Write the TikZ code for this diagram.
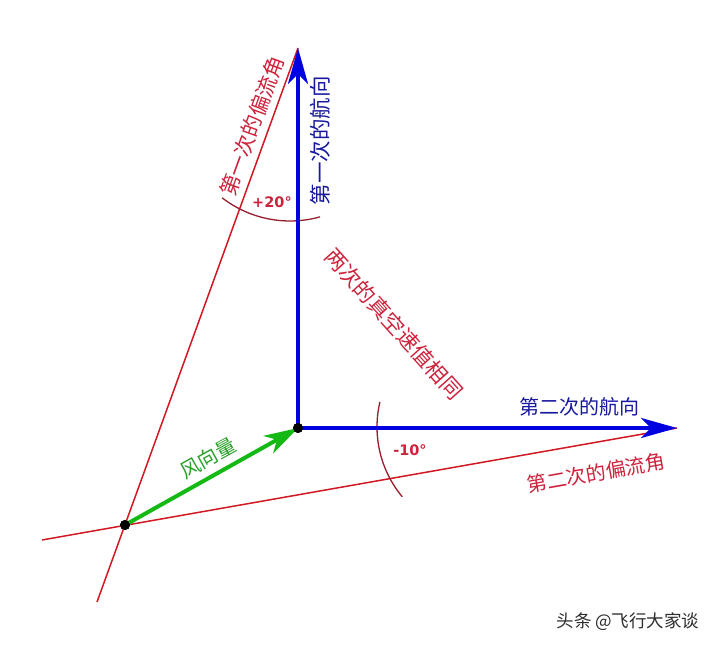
\documentclass[tikz,border=0pt]{standalone}
\usepackage{fontspec}
\setmainfont{DejaVu Sans}
\newfontfamily\cjk{Noto Sans CJK SC}
\newfontfamily\dvb{DejaVu Sans}
\usetikzlibrary{arrows.meta}
\definecolor{lnred}{RGB}{210,25,35}
\definecolor{arcred}{RGB}{150,30,45}
\definecolor{txred}{RGB}{205,35,60}
\definecolor{lnblue}{RGB}{0,0,225}
\definecolor{txblue}{RGB}{25,25,160}
\definecolor{lngreen}{RGB}{20,185,20}
\definecolor{txgreen}{RGB}{40,160,40}
\definecolor{wmgray}{RGB}{45,45,45}
\tikzset{
  redline/.style={draw=lnred,line width=1.5pt},
  anglearc/.style={draw=arcred,line width=1.3pt},
  bluearrow/.style={draw=lnblue,line width=4.5pt,-{Stealth[length=36pt,width=20pt,inset=10pt]}},
  greenarrow/.style={draw=lngreen,line width=4pt,-{Stealth[length=34pt,width=20pt,inset=10pt]}},
  dotnode/.style={circle,fill=black,inner sep=0pt,minimum size=10pt},
  cjklabel/.style={inner sep=0pt,font=\cjk\fontsize{20}{20}\selectfont},
  anglelabel/.style={inner sep=0pt,text=txred,font=\dvb\bfseries\fontsize{14.5}{14.5}\selectfont}
}
\begin{document}
\begin{tikzpicture}[x=1pt,y=1pt]
\useasboundingbox (0,0) rectangle (720,648);
\fill[white] (0,0) rectangle (720,648);
% key points
\coordinate (T) at (298,600);
\coordinate (R) at (677,220);
\coordinate (L1) at (97,46);
\coordinate (L2) at (42,108);
\node[dotnode] (O) at (298,220) {};
\node[dotnode] (W) at (125,123) {};
% drift lines
\draw[redline] (L1) -- (T);
\draw[redline] (L2) -- (R);
% angle arcs
\draw[anglearc] (290,538) ++(-127.7:111) arc[start angle=-127.7,end angle=-74.3,radius=111];
\draw[anglearc] (486,221) ++(166.7:109) arc[start angle=166.7,end angle=219.8,radius=109];
% wind vector
\draw[greenarrow] (W.center) -- (O.center);
% headings
\draw[bluearrow] (O.center) -- (T);
\draw[bluearrow] (O.center) -- (R);
% dots on top
\node[dotnode] at (O) {};
\node[dotnode] at (W) {};
% labels
\node[cjklabel,text=txred,rotate=70,font=\cjk\fontsize{21}{21}\selectfont] (l1) at (252,522) {第一次的偏流角};
\node[cjklabel,text=txblue,rotate=90,font=\cjk\fontsize{21.5}{21.5}\selectfont] (h1) at (320,507) {第一次的航向};
\node[anglelabel] (a1) at (272,446) {+20°};
\node[anglelabel] (a2) at (410,198) {-10°};
\node[cjklabel,text=txred,rotate=-48,font=\cjk\fontsize{21.5}{21.5}\selectfont] (same) at (394,324) {两次的真空速值相同};
\node[cjklabel,text=txblue] (h2) at (579,241) {第二次的航向};
\node[cjklabel,text=txred,rotate=10] (l2) at (596,175) {第二次的偏流角};
\node[cjklabel,text=txgreen,rotate=29] (wind) at (208,190) {风向量};
\node[inner sep=0pt,text=wmgray,font=\cjk\fontsize{17.5}{17.5}\selectfont] (wm) at (628,26) {头条 @飞行大家谈};
\end{tikzpicture}
\end{document}
